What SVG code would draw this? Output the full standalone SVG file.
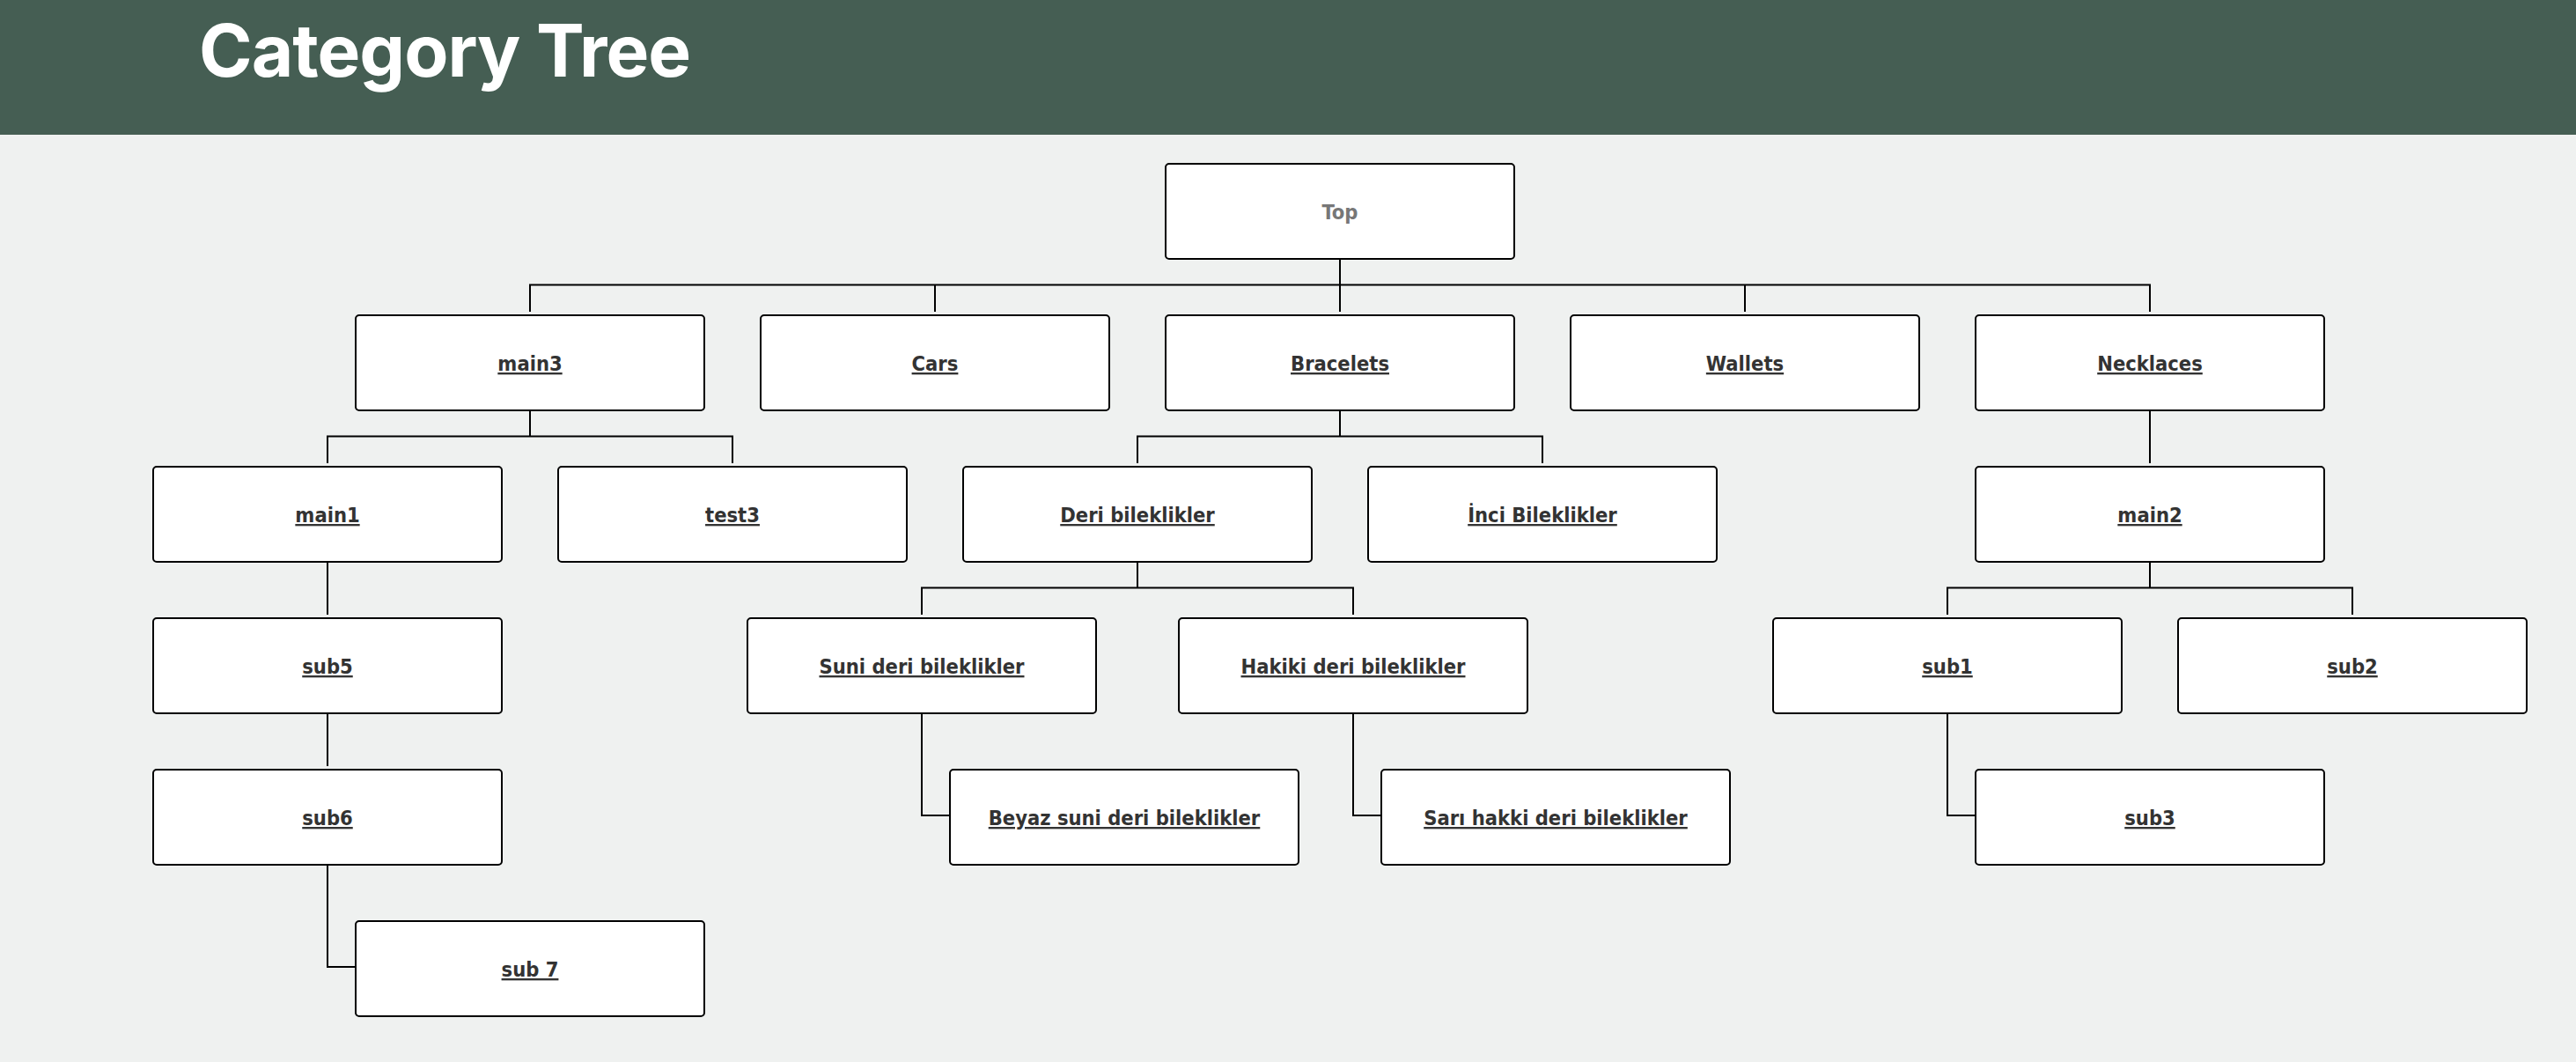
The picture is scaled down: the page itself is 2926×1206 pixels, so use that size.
<svg xmlns="http://www.w3.org/2000/svg" width="2926" height="1206" viewBox="0 0 2926 1206">
<style>
.bg{fill:#eff1f0}
.hdr{fill:#455e53}
.title{font-family:Inter,"Liberation Sans",sans-serif;font-weight:700;font-size:82px;letter-spacing:-1px;fill:#ffffff}
.box{fill:#ffffff;stroke:#000000;stroke-width:2}
.lbl{font-family:"DejaVu Sans Condensed","DejaVu Sans",sans-serif;font-stretch:condensed;font-weight:bold;font-size:23.5px;fill:#333333;text-anchor:middle;text-decoration:underline}
.root{fill:#777777;text-decoration:none}
.con{fill:none;stroke:#000000;stroke-width:2}
</style>
<rect class="bg" x="0" y="0" width="2926" height="1206"/>
<rect class="hdr" x="0" y="0" width="2926" height="153"/>
<text class="title" x="226" y="87">Category Tree</text>

<g id="connectors">
<path class="con" d="M1522 295 V323.5"/>
<path class="con" d="M602 354 V323.5 H2442 V354"/>
<path class="con" d="M1062 323.5 V354"/>
<path class="con" d="M1522 323.5 V354"/>
<path class="con" d="M1982 323.5 V354"/>

<path class="con" d="M602 467 V495.5"/>
<path class="con" d="M372 526 V495.5 H832 V526"/>
<path class="con" d="M1522 467 V495.5"/>
<path class="con" d="M1292 526 V495.5 H1752 V526"/>
<path class="con" d="M2442 467 V526"/>

<path class="con" d="M372 639 V698"/>
<path class="con" d="M1292 639 V667.5"/>
<path class="con" d="M1047 698 V667.5 H1537 V698"/>
<path class="con" d="M2442 639 V667.5"/>
<path class="con" d="M2212 698 V667.5 H2672 V698"/>

<path class="con" d="M372 811 V870"/>
<path class="con" d="M1047 811 V926 H1078"/>
<path class="con" d="M1537 811 V926 H1568"/>
<path class="con" d="M2212 811 V926 H2243"/>
<path class="con" d="M372 983 V1098 H403"/>
</g>

<g id="node-top"><rect class="box" x="1324" y="186" width="396" height="108" rx="4"/><text class="lbl root" x="1522" y="249">Top</text></g>

<g id="node-main3"><rect class="box" x="404" y="358" width="396" height="108" rx="4"/><text class="lbl" x="602" y="421">main3</text></g>
<g id="node-cars"><rect class="box" x="864" y="358" width="396" height="108" rx="4"/><text class="lbl" x="1062" y="421">Cars</text></g>
<g id="node-bracelets"><rect class="box" x="1324" y="358" width="396" height="108" rx="4"/><text class="lbl" x="1522" y="421">Bracelets</text></g>
<g id="node-wallets"><rect class="box" x="1784" y="358" width="396" height="108" rx="4"/><text class="lbl" x="1982" y="421">Wallets</text></g>
<g id="node-necklaces"><rect class="box" x="2244" y="358" width="396" height="108" rx="4"/><text class="lbl" x="2442" y="421">Necklaces</text></g>

<g id="node-main1"><rect class="box" x="174" y="530" width="396" height="108" rx="4"/><text class="lbl" x="372" y="593">main1</text></g>
<g id="node-test3"><rect class="box" x="634" y="530" width="396" height="108" rx="4"/><text class="lbl" x="832" y="593">test3</text></g>
<g id="node-deri"><rect class="box" x="1094" y="530" width="396" height="108" rx="4"/><text class="lbl" x="1292" y="593">Deri bileklikler</text></g>
<g id="node-inci"><rect class="box" x="1554" y="530" width="396" height="108" rx="4"/><text class="lbl" x="1752" y="593">İnci Bileklikler</text></g>
<g id="node-main2"><rect class="box" x="2244" y="530" width="396" height="108" rx="4"/><text class="lbl" x="2442" y="593">main2</text></g>

<g id="node-sub5"><rect class="box" x="174" y="702" width="396" height="108" rx="4"/><text class="lbl" x="372" y="765">sub5</text></g>
<g id="node-suni"><rect class="box" x="849" y="702" width="396" height="108" rx="4"/><text class="lbl" x="1047" y="765">Suni deri bileklikler</text></g>
<g id="node-hakiki"><rect class="box" x="1339" y="702" width="396" height="108" rx="4"/><text class="lbl" x="1537" y="765">Hakiki deri bileklikler</text></g>
<g id="node-sub1"><rect class="box" x="2014" y="702" width="396" height="108" rx="4"/><text class="lbl" x="2212" y="765">sub1</text></g>
<g id="node-sub2"><rect class="box" x="2474" y="702" width="396" height="108" rx="4"/><text class="lbl" x="2672" y="765">sub2</text></g>

<g id="node-sub6"><rect class="box" x="174" y="874" width="396" height="108" rx="4"/><text class="lbl" x="372" y="937">sub6</text></g>
<g id="node-beyaz"><rect class="box" x="1079" y="874" width="396" height="108" rx="4"/><text class="lbl" x="1277" y="937">Beyaz suni deri bileklikler</text></g>
<g id="node-sari"><rect class="box" x="1569" y="874" width="396" height="108" rx="4"/><text class="lbl" x="1767" y="937">Sarı hakki deri bileklikler</text></g>
<g id="node-sub3"><rect class="box" x="2244" y="874" width="396" height="108" rx="4"/><text class="lbl" x="2442" y="937">sub3</text></g>

<g id="node-sub7"><rect class="box" x="404" y="1046" width="396" height="108" rx="4"/><text class="lbl" x="602" y="1109">sub 7</text></g>
</svg>
